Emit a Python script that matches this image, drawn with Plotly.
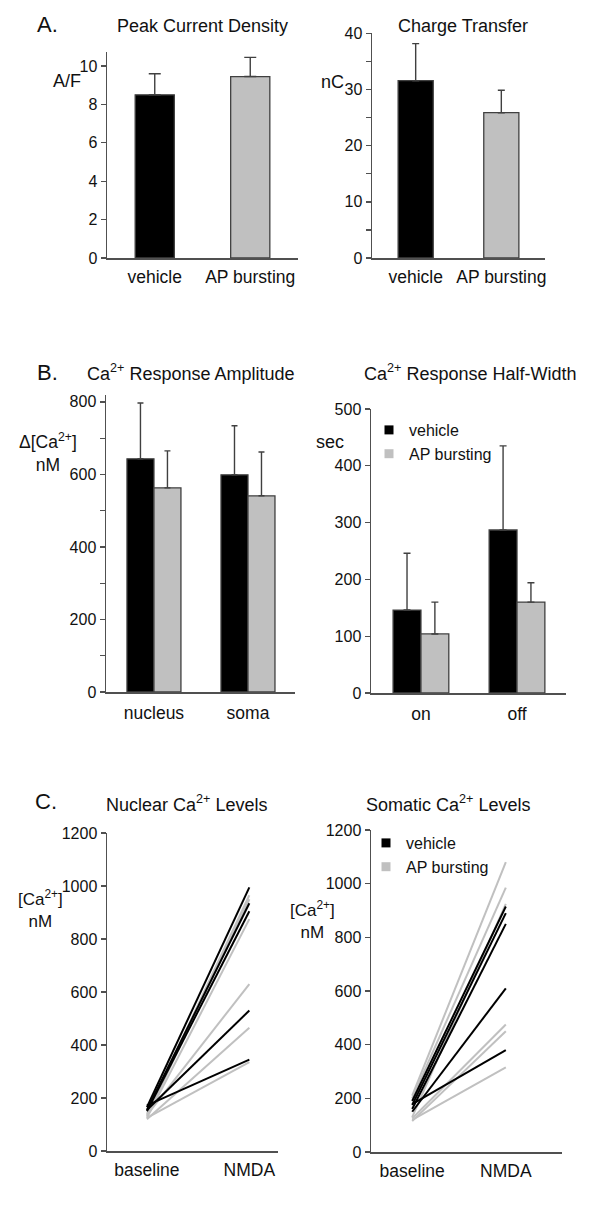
import plotly.graph_objects as go

W, H = 600, 1205

# ---------------- data ----------------
# Panel A
a_cats = ["vehicle", "AP bursting"]
peak_mean = [8.5, 9.45]
peak_upper = [9.6, 10.45]
charge_mean = [31.6, 25.9]
charge_upper = [38.2, 29.9]

# Panel B
amp_cats = ["nucleus", "soma"]
amp_vehicle = [643, 599]
amp_vehicle_upper = [797, 734]
amp_ap = [563, 541]
amp_ap_upper = [665, 662]

hw_cats = ["on", "off"]
hw_vehicle = [146, 287]
hw_vehicle_upper = [246, 435]
hw_ap = [104, 160]
hw_ap_upper = [160, 194]

# Panel C
c_cats = ["baseline", "NMDA"]
nuc_veh_base = [165, 155, 150, 155, 172]
nuc_veh_nmda = [995, 935, 905, 530, 345]
nuc_ap_base = [140, 130, 125, 135, 120, 125]
nuc_ap_nmda = [965, 950, 875, 630, 465, 335]
som_veh_base = [190, 175, 160, 150, 178]
som_veh_nmda = [915, 890, 850, 610, 380]
som_ap_base = [210, 200, 130, 125, 115, 120]
som_ap_nmda = [1080, 985, 925, 475, 450, 315]

# ---------------- styles ----------------
FONT = "Liberation Sans, Arial, Helvetica, sans-serif"
BLACK = "#000000"
GRAY = "#c0c0c0"
AX = "#505050"
EDGE = "#404040"
TXT = "#111111"


def fx(px):
    return px / W


def fy(py):
    return 1 - py / H


fig = go.Figure()


def bar(x, y, upper, color, xa, ya, offset, width, capw):
    fig.add_trace(go.Bar(
        x=x, y=y, xaxis=xa, yaxis=ya,
        offset=offset, width=width,
        marker=dict(color=color, line=dict(color=EDGE, width=1.3)),
        error_y=dict(type="data", symmetric=False,
                     array=[u - v for u, v in zip(upper, y)],
                     arrayminus=[0] * len(y),
                     color=EDGE, thickness=1.4, width=capw),
        showlegend=False, hoverinfo="skip"))


# Panel A
bar(a_cats, peak_mean, peak_upper, [BLACK, GRAY], "x", "y", -0.205, 0.41, 6)
bar(a_cats, charge_mean, charge_upper, [BLACK, GRAY], "x2", "y2", -0.205, 0.41, 3.5)

# Panel B
bar(amp_cats, amp_vehicle, amp_vehicle_upper, BLACK, "x3", "y3", -0.287, 0.287, 3)
bar(amp_cats, amp_ap, amp_ap_upper, GRAY, "x3", "y3", 0.0, 0.287, 3)
bar(hw_cats, hw_vehicle, hw_vehicle_upper, BLACK, "x4", "y4", -0.29, 0.29, 3.5)
bar(hw_cats, hw_ap, hw_ap_upper, GRAY, "x4", "y4", 0.0, 0.29, 3.5)


# Panel C lines
def lines(base, nmda, color, xa, ya):
    xs, ys = [], []
    for b, n in zip(base, nmda):
        xs += [c_cats[0], c_cats[1], None]
        ys += [b, n, None]
    fig.add_trace(go.Scatter(x=xs, y=ys, mode="lines", xaxis=xa, yaxis=ya,
                             line=dict(color=color, width=2),
                             showlegend=False, hoverinfo="skip",
                             connectgaps=False))


lines(nuc_ap_base, nuc_ap_nmda, GRAY, "x5", "y5")
lines(nuc_veh_base, nuc_veh_nmda, BLACK, "x5", "y5")
lines(som_ap_base, som_ap_nmda, GRAY, "x6", "y6")
lines(som_veh_base, som_veh_nmda, BLACK, "x6", "y6")

# legend entries
for lg, xa, ya in [("legend", "x4", "y4"), ("legend2", "x6", "y6")]:
    for name, col in [("vehicle", BLACK), ("AP bursting", GRAY)]:
        fig.add_trace(go.Scatter(x=[None], y=[None], mode="markers", name=name,
                                 xaxis=xa, yaxis=ya, legend=lg,
                                 marker=dict(symbol="square", size=9, color=col),
                                 hoverinfo="skip"))


def xaxis(x0, x1, rng, anchor, standoff):
    return dict(domain=[fx(x0), fx(x1)], range=rng, type="category",
                anchor=anchor, showline=True, linecolor=AX, linewidth=1.5,
                ticks="", showgrid=False, zeroline=False, automargin=False,
                tickfont=dict(family=FONT, size=17.5, color=TXT),
                ticklabelstandoff=standoff, fixedrange=True)


def yaxis(top, bottom, rng, dtick, anchor, minor=None):
    d = dict(domain=[fy(bottom), fy(top)], range=rng, anchor=anchor,
             showline=True, linecolor=AX, linewidth=1.5, automargin=False,
             ticks="outside", ticklen=5, tickwidth=1.3, tickcolor=AX,
             tick0=0, dtick=dtick, showgrid=False, zeroline=False,
             tickfont=dict(family=FONT, size=16, color=TXT), fixedrange=True)
    if minor:
        d["minor"] = dict(dtick=minor, ticks="outside", ticklen=5,
                          tickwidth=1.3, tickcolor=AX, showgrid=False)
    return d


layout = dict(
    width=W, height=H,
    margin=dict(l=0, r=0, t=0, b=0, pad=0, autoexpand=False),
    paper_bgcolor="white", plot_bgcolor="white",
    barmode="overlay", showlegend=True, hovermode=False,
    font=dict(family=FONT, color=TXT),
    xaxis=xaxis(107, 298, [-0.5, 1.5], "y", 2),
    yaxis=yaxis(52, 258, [0, 10.73], 2, "x"),
    xaxis2=xaxis(372, 545, [-0.51, 1.51], "y2", 2),
    yaxis2=yaxis(33, 258, [0, 40.1], 10, "x2", minor=5),
    xaxis3=xaxis(106, 295, [-0.51, 1.5], "y3", 4),
    yaxis3=yaxis(395, 692, [0, 819], 200, "x3", minor=100),
    xaxis4=xaxis(371, 566, [-0.52, 1.51], "y4", 4),
    yaxis4=yaxis(409, 693, [0, 500], 100, "x4"),
    xaxis5=xaxis(107, 278, [-0.39, 1.28], "y5", 2),
    yaxis5=yaxis(833, 1151, [0, 1200], 200, "x5"),
    xaxis6=xaxis(371, 562, [-0.44, 1.6], "y6", 2),
    yaxis6=yaxis(830, 1152, [0, 1200], 200, "x6"),
    legend=dict(x=fx(369), y=fy(413), xanchor="left", yanchor="top",
                font=dict(family=FONT, size=16, color=TXT),
                bgcolor="rgba(0,0,0,0)", itemwidth=30, tracegroupgap=0),
    legend2=dict(x=fx(366), y=fy(826), xanchor="left", yanchor="top",
                 font=dict(family=FONT, size=16, color=TXT),
                 bgcolor="rgba(0,0,0,0)", itemwidth=30, tracegroupgap=0),
)
fig.update_layout(**layout)

ann = []


def text(s, x, y, size=17, align="center"):
    ann.append(dict(text=s, x=fx(x), y=fy(y), xref="paper", yref="paper",
                    showarrow=False, xanchor="center", yanchor="middle",
                    align=align, font=dict(family=FONT, size=size, color=TXT)))


# panel letters
text("A.", 47, 24, 22)
text("B.", 47, 372, 22)
text("C.", 46, 801, 22)
# titles
text("Peak Current Density", 202, 26, 18)
text("Charge Transfer", 463, 26, 18)
text("Ca<sup>2+</sup> Response Amplitude", 190, 372, 18)
text("Ca<sup>2+</sup> Response Half-Width", 470, 372, 18)
text("Nuclear Ca<sup>2+</sup> Levels", 186, 803, 18)
text("Somatic Ca<sup>2+</sup> Levels", 448, 803, 18)
# y-axis labels
text("A/F", 67, 81, 18)
text("nC", 332, 82, 18)
text("Δ[Ca<sup>2+</sup>]<br>nM", 48, 452, 17.5)
text("sec", 330, 442, 18)
text("[Ca<sup>2+</sup>]<br>nM", 40, 909, 17)
text("[Ca<sup>2+</sup>]<br>nM", 313, 920, 17)

fig.update_layout(annotations=ann)
fig.write_html("out.html",
               config={"displayModeBar": False, "staticPlot": True},
               post_script="document.body.style.margin='0';"
                           "document.body.style.padding='0';")
